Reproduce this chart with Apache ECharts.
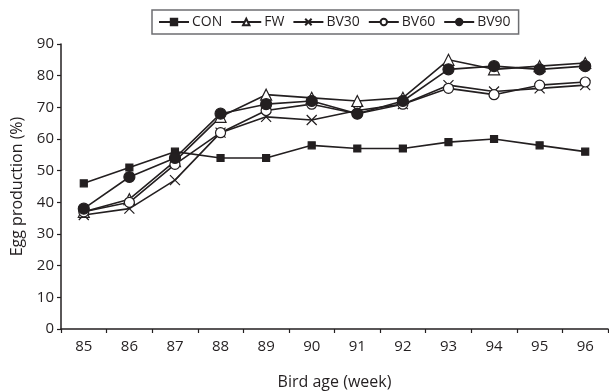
<!DOCTYPE html>
<html>
<head>
<meta charset="utf-8">
<script src="https://cdn.jsdelivr.net/npm/echarts@6/dist/echarts.min.js"></script>
<style>
  html, body { margin: 0; padding: 0; background: #fff; }
  #chart { width: 609px; height: 391px; }
</style>
</head>
<body>
<div id="chart"></div>
<script>
// 周龄
var weeks = ["85", "86", "87", "88", "89", "90", "91", "92", "93", "94", "95", "96"];
// 各组产蛋率 (%)
var con  = [46, 51, 56, 54, 54, 58, 57, 57, 59, 60, 58, 56];
var fw   = [37, 41, 53, 67, 74, 73, 72, 73, 85, 82, 83, 84];
var bv30 = [36, 38, 47, 62, 67, 66, 69, 71, 77, 75, 76, 77];
var bv60 = [37, 40, 52, 62, 69, 71, 68, 71, 76, 74, 77, 78];
var bv90 = [38, 48, 54, 68, 71, 72, 68, 72, 82, 83, 82, 83];

var ink = "#231f20";
var font = "Open Sans";
var crossPath = "path://M0,0L10,10M10,0L0,10";

function makeSeries(name, data, symbol, size, fill) {
  return {
    name: name,
    type: "line",
    data: data,
    symbol: symbol,
    symbolSize: size,
    showAllSymbol: true,
    lineStyle: { color: ink, width: 1.6 },
    itemStyle: { color: fill, borderColor: ink, borderWidth: 1.2 },
    emphasis: { disabled: true }
  };
}

var myChart = echarts.init(document.getElementById("chart"));
// 绘制图表
myChart.setOption({
  animation: false,
  textStyle: { fontFamily: font, color: ink },
  legend: {
    left: 152,
    top: 10,
    padding: [5, 8, 5, 6],
    itemGap: 8,
    itemWidth: 30,
    itemHeight: 8,
    borderColor: "#6d6e71",
    borderWidth: 1.5,
    textStyle: { fontFamily: font, fontSize: 14, color: ink, padding: [0, 0, 0, -2] },
    data: ["CON", "FW", "BV30", "BV60", "BV90"]
  },
  grid: {
    left: 61,
    right: 1,
    top: 44,
    bottom: 62,
    containLabel: false,
    outerBoundsMode: "none"
  },
  xAxis: {
    type: "category",
    boundaryGap: true,
    data: weeks,
    name: "Bird age (week)",
    nameLocation: "middle",
    nameGap: 45,
    nameTextStyle: { fontFamily: font, fontSize: 16, color: ink },
    axisLine: { lineStyle: { color: ink, width: 1.5 } },
    axisTick: { show: true, length: 4, lineStyle: { color: ink, width: 1.2 } },
    axisLabel: { fontFamily: font, fontSize: 15, color: ink, margin: 10 }
  },
  yAxis: {
    type: "value",
    min: 0,
    max: 90,
    interval: 10,
    name: "Egg production (%)",
    nameLocation: "middle",
    nameGap: 36,
    nameTextStyle: { fontFamily: font, fontSize: 16, color: ink },
    splitLine: { show: false },
    axisLine: { show: true, lineStyle: { color: ink, width: 1.5 } },
    axisTick: { show: true, length: 4, lineStyle: { color: ink, width: 1.2 } },
    axisLabel: { fontFamily: font, fontSize: 15, color: ink, margin: 7 }
  },
  series: [
    makeSeries("CON", con, "rect", 7, ink),
    makeSeries("FW", fw, "triangle", 11, "#fff"),
    makeSeries("BV30", bv30, crossPath, 10, "#fff"),
    makeSeries("BV60", bv60, "circle", 10, "#fff"),
    makeSeries("BV90", bv90, "circle", 11, ink)
  ]
});
</script>
</body>
</html>
